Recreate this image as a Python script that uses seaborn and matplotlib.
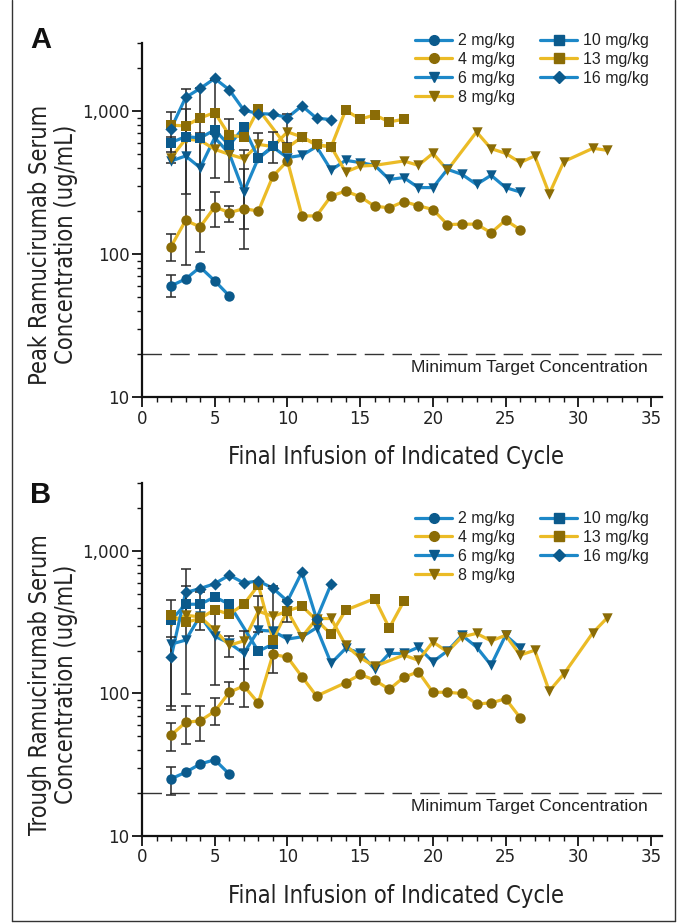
import numpy as np
import pandas as pd
import matplotlib
matplotlib.use("Agg")
import matplotlib.pyplot as plt
from matplotlib.lines import Line2D
from matplotlib import font_manager as fm
import seaborn as sns

# ---------------- data ----------------
doses = ["2 mg/kg", "4 mg/kg", "6 mg/kg", "8 mg/kg", "10 mg/kg", "13 mg/kg", "16 mg/kg"]

# Panel A: peak concentrations
peak_2_x = [2, 3, 4, 5, 6]
peak_2_y = [60, 67, 81, 65, 51]
peak_4_x = [2, 3, 4, 5, 6, 7, 8, 9, 10, 11, 12, 13, 14, 15, 16, 17, 18, 19, 20, 21, 22, 23, 24, 25, 26]
peak_4_y = [113, 172, 155, 214, 195, 208, 200, 351, 448, 185, 185, 255, 276, 252, 216, 211, 233, 218, 205, 161, 162, 162, 141, 173, 148]
peak_6_x = [2, 3, 4, 5, 6, 7, 8, 9, 10, 11, 12, 13, 14, 15, 16, 17, 18, 19, 20, 21, 22, 23, 24, 25, 26]
peak_6_y = [448, 486, 402, 653, 505, 272, 470, 560, 473, 491, 565, 387, 453, 437, 418, 333, 343, 292, 292, 392, 361, 307, 356, 292, 272]
peak_8_x = [2, 3, 4, 5, 6, 7, 8, 9, 10, 11, 12, 13, 14, 15, 16, 18, 19, 20, 21, 23, 24, 25, 26, 27, 28, 29, 31, 32]
peak_8_y = [473, 637, 625, 541, 499, 465, 586, 565, 716, 660, 577, 565, 375, 413, 418, 448, 418, 507, 387, 716, 547, 507, 437, 486, 264, 444, 550, 532]
peak_10_x = [2, 3, 4, 5, 6, 7, 8, 9]
peak_10_y = [603, 664, 650, 740, 577, 773, 468, 571]
peak_13_x = [2, 3, 4, 5, 6, 7, 8, 10, 11, 12, 13, 14, 15, 16, 17, 18]
peak_13_y = [798, 789, 897, 978, 679, 660, 1033, 556, 660, 586, 562, 1016, 879, 942, 841, 879]
peak_16_x = [2, 3, 4, 5, 6, 7, 8, 9, 10, 11, 12, 13]
peak_16_y = [756, 1248, 1443, 1694, 1411, 1016, 962, 953, 903, 1089, 893, 874]

peak_err_x = [2, 2, 2, 2, 3, 3, 4, 4, 5, 5, 6, 6, 7, 7, 8, 9, 10]
peak_err_lo = [436, 520, 89, 50, 264, 84, 103, 205, 154, 342, 317, 169, 109, 149, 480, 431, 600]
peak_err_hi = [984, 660, 138, 71, 1434, 1039, 1448, 698, 272, 1665, 875, 216, 534, 391, 700, 713, 950]

# Panel B: trough concentrations
trough_2_x = [2, 3, 4, 5, 6]
trough_2_y = [25.2, 28, 32, 34.3, 27.2]
trough_4_x = [2, 3, 4, 5, 6, 7, 8, 9, 10, 11, 12, 14, 15, 16, 17, 18, 19, 20, 21, 22, 23, 24, 25, 26]
trough_4_y = [51, 62.7, 64.4, 74.9, 102, 113, 85.8, 188, 180, 131, 96, 119, 136, 124, 107, 130, 142, 102, 102, 100, 84.4, 86, 91.8, 67.6]
trough_6_x = [2, 3, 4, 5, 6, 7, 8, 9, 10, 11, 12, 13, 14, 15, 16, 17, 18, 19, 20, 21, 22, 23, 24, 25, 26]
trough_6_y = [222, 237, 350, 252, 226, 191, 278, 274, 241, 250, 289, 163, 207, 193, 148, 191, 191, 211, 167, 199, 256, 212, 158, 256, 209]
trough_8_x = [2, 3, 4, 5, 6, 7, 8, 9, 10, 11, 12, 13, 14, 15, 16, 18, 19, 20, 21, 22, 23, 24, 25, 26, 27, 28, 29, 31, 32]
trough_8_y = [320, 354, 345, 278, 218, 234, 378, 348, 378, 250, 335, 336, 218, 178, 155, 186, 171, 230, 196, 250, 264, 234, 256, 186, 201, 104, 137, 267, 341]
trough_10_x = [2, 3, 4, 5, 6, 8, 9]
trough_10_y = [327, 423, 423, 476, 423, 198, 222]
trough_13_x = [2, 3, 4, 5, 6, 7, 8, 9, 10, 11, 12, 13, 14, 16, 17, 18]
trough_13_y = [354, 315, 336, 388, 360, 423, 575, 239, 380, 410, 327, 261, 384, 464, 288, 444]
trough_16_x = [2, 3, 4, 5, 6, 7, 8, 9, 10, 11, 12, 13]
trough_16_y = [179, 512, 545, 590, 676, 597, 616, 548, 445, 713, 334, 585]

trough_err_x = [2, 2, 2, 2, 3, 3, 3, 4, 4, 5, 5, 6, 6, 7, 7, 8, 9, 10]
trough_err_lo = [76, 82, 39.8, 19.4, 98.6, 330, 44, 278, 46.6, 114, 60, 181, 84, 81, 148, 271, 140, 318]
trough_err_hi = [456, 249, 62.5, 30.6, 744, 568, 81.6, 516, 82, 395, 92.5, 254, 121, 275, 201, 484, 569, 456]

min_target = 20
x_ticks = [0, 5, 10, 15, 20, 25, 30, 35]
y_ticks = [10, 100, 1000]
y_ticklabels = ["10", "100", "1,000"]

# ---------------- style ----------------
BLUE = "#1d88c8"
BLUE_DK = "#0b5a8c"
GOLD = "#ebbb26"
GOLD_DK = "#8b6c06"
line_colors = {"2 mg/kg": BLUE, "4 mg/kg": GOLD, "6 mg/kg": BLUE, "8 mg/kg": GOLD,
               "10 mg/kg": BLUE, "13 mg/kg": GOLD, "16 mg/kg": BLUE}
mark_colors = {"2 mg/kg": BLUE_DK, "4 mg/kg": GOLD_DK, "6 mg/kg": BLUE_DK, "8 mg/kg": GOLD_DK,
               "10 mg/kg": BLUE_DK, "13 mg/kg": GOLD_DK, "16 mg/kg": BLUE_DK}
markers = {"2 mg/kg": "o", "4 mg/kg": "o", "6 mg/kg": "v", "8 mg/kg": "v",
           "10 mg/kg": "s", "13 mg/kg": "s", "16 mg/kg": "D"}
msizes = {"o": 7.5, "v": 7.5, "s": 7.0, "D": 6.2}

sns.set_theme(style="white")
REG = ["Liberation Sans", "DejaVu Sans"]
plt.rcParams["font.family"] = REG

# look for a condensed/narrow face
cond_path = None
for f in fm.fontManager.ttflist:
    nm = (f.fname + " " + f.name).lower()
    if ("narrow" in nm or "condensed" in nm or f.stretch in ("condensed", "semi-condensed")) \
            and "bold" not in nm and "oblique" not in nm and "italic" not in nm:
        cond_path = f.fname
        break


def cond_fp(size):
    if cond_path:
        return fm.FontProperties(fname=cond_path, size=size)
    return fm.FontProperties(family=REG, size=size * 0.87)


def build(prefix):
    g = globals()
    rows = []
    for d in doses:
        n = d.split()[0]
        xs = g[f"{prefix}_{n}_x"]
        ys = g[f"{prefix}_{n}_y"]
        for xv, yv in zip(xs, ys):
            rows.append({"cycle": xv, "conc": yv, "dose": d})
    return pd.DataFrame(rows)


def draw(ax, prefix, ylabel, err_x, err_lo, err_hi, leg_anchor):
    df = build(prefix)
    sns.lineplot(data=df, x="cycle", y="conc", hue="dose", hue_order=doses,
                 palette=line_colors, estimator=None, sort=True, lw=2.3,
                 legend=False, ax=ax, zorder=2)
    lo = np.array(err_lo, float)
    hi = np.array(err_hi, float)
    mid = np.sqrt(lo * hi)
    ax.errorbar(err_x, mid, yerr=[mid - lo, hi - mid], fmt="none",
                ecolor="#2a2a2a", elinewidth=1.3, capsize=3.5, capthick=1.3,
                alpha=0.85, zorder=3)
    for d in doses:
        sub = df[df["dose"] == d]
        m = markers[d]
        sns.scatterplot(data=sub, x="cycle", y="conc", color=mark_colors[d],
                        marker=m, s=msizes[m] ** 2, linewidth=0, legend=False,
                        ax=ax, zorder=4)
    ax.set_yscale("log")
    ax.set_xlim(0, 35.75)
    ax.set_ylim(10, 3000)
    ax.axhline(min_target, xmin=0, xmax=1, color="#333333", lw=1.0,
               linestyle=(0, (14, 6)), zorder=1)
    ax.text(34.8, 16.1, "Minimum Target Concentration", ha="right", va="center",
            fontsize=12.5, color="#222222", family=REG)
    ax.set_xticks(x_ticks)
    ax.set_xticks(np.arange(0, 36, 1), minor=True)
    ax.set_yticks(y_ticks)
    ax.set_yticklabels(y_ticklabels)
    ax.tick_params(axis="both", which="major", direction="out", length=7,
                   width=1.3, color="#111111", pad=2,
                   labelcolor="#222222", left=True, bottom=True)
    ax.tick_params(axis="both", which="minor", direction="out", length=3.5,
                   width=1.0, color="#111111", left=True, bottom=True)
    for lab in ax.get_xticklabels() + ax.get_yticklabels():
        lab.set_fontproperties(cond_fp(13.3))
    for s in ["top", "right"]:
        ax.spines[s].set_visible(False)
    for s in ["left", "bottom"]:
        ax.spines[s].set_color("#111111")
        ax.spines[s].set_linewidth(1.6)
    ax.set_xlabel("Final Infusion of Indicated Cycle", fontproperties=cond_fp(17),
                  color="#222222", va="center")
    ax.xaxis.set_label_coords(0.488, -0.17)
    ax.set_ylabel(ylabel, fontproperties=cond_fp(17), color="#222222",
                  linespacing=1.12, va="center")
    ax.yaxis.set_label_coords(-0.171, 0.43)
    handles = [Line2D([], [], color=line_colors[d], lw=2.3, marker=markers[d],
                      markerfacecolor=mark_colors[d], markeredgecolor=mark_colors[d],
                      markersize=msizes[markers[d]] - 0.5) for d in doses]
    leg = ax.legend(handles, doses, ncol=2, loc="upper left", bbox_to_anchor=leg_anchor,
                    frameon=False, handlelength=2.3, handletextpad=0.4,
                    columnspacing=1.55, labelspacing=0.24, borderpad=0.2,
                    prop={"family": REG, "size": 11.5})
    for t in leg.get_texts():
        t.set_color("#222222")


fig = plt.figure(figsize=(6.79, 9.23), dpi=100)
axA = fig.add_axes([142 / 679, 1 - 397 / 923, 520 / 679, 354 / 923])
axB = fig.add_axes([142 / 679, 1 - 836 / 923, 520 / 679, 353 / 923])

draw(axA, "peak", "Peak Ramucirumab Serum\nConcentration (ug/mL)",
     peak_err_x, peak_err_lo, peak_err_hi, ((404 - 142) / 520, 1 + (43 - 22) / 354))
draw(axB, "trough", "Trough Ramucirumab Serum\nConcentration (ug/mL)",
     trough_err_x, trough_err_lo, trough_err_hi, ((404 - 142) / 520, 1 - (500 - 483) / 353))

fig.text(41 / 679, 1 - 40 / 923, "A", fontsize=21, weight="bold", ha="center",
         va="center", family=REG, color="#111111")
fig.text(41 / 679, 1 - 495 / 923, "B", fontsize=21, weight="bold", ha="center",
         va="center", family=REG, color="#111111")

# outer frame
for xs, ys in [([12 / 679, 12 / 679], [0.002, 1]), ([675 / 679, 675 / 679], [0.002, 1]),
               ([12 / 679, 675 / 679], [0.002, 0.002])]:
    fig.add_artist(Line2D(xs, ys, transform=fig.transFigure, color="#333333", lw=1.0))

fig.savefig("out.png", dpi=100)
